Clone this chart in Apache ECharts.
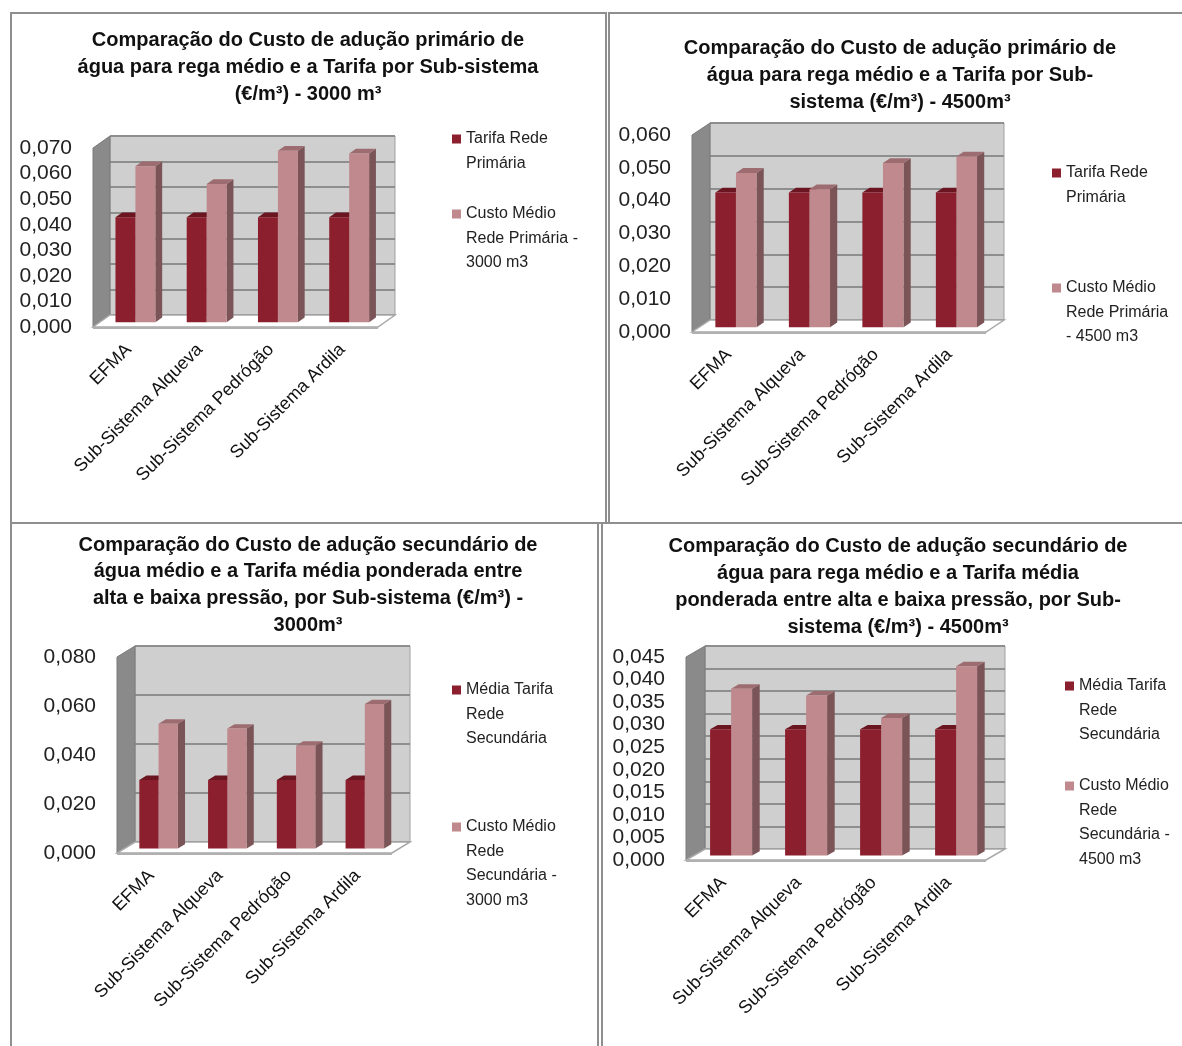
<!DOCTYPE html>
<html><head><meta charset="utf-8">
<script src="https://cdn.jsdelivr.net/npm/echarts@6/dist/echarts.min.js"></script>
<style>
html,body{margin:0;padding:0;background:#fff;}
body{width:1182px;height:1046px;position:relative;overflow:hidden;}
.c{position:absolute;}
.b{position:absolute;box-sizing:border-box;border:2px solid #8f8f8f;pointer-events:none;z-index:5;}
</style></head>
<body>
<div id="c1" class="c" style="left:10px;top:12px;width:596px;height:511px"></div>
<div id="c2" class="c" style="left:608px;top:12px;width:584px;height:510px"></div>
<div id="c3" class="c" style="left:10px;top:523px;width:596px;height:523px"></div>
<div id="c4" class="c" style="left:601px;top:523px;width:594px;height:523px"></div>
<div class="b" style="left:10px;top:12px;width:597px;height:512px"></div>
<div class="b" style="left:608px;top:12px;width:580px;height:512px"></div>
<div class="b" style="left:10px;top:522px;width:589px;height:530px"></div>
<div class="b" style="left:601px;top:522px;width:590px;height:530px"></div>
<script>
// ---- data ----
const categories = ['EFMA', 'Sub-Sistema Alqueva', 'Sub-Sistema Pedrógão', 'Sub-Sistema Ardila'];
const tarifaPrimaria3000 = [0.041, 0.041, 0.041, 0.041];
const custoPrimaria3000 = [0.061, 0.054, 0.067, 0.066];
const tarifaPrimaria4500 = [0.041, 0.041, 0.041, 0.041];
const custoPrimaria4500 = [0.047, 0.042, 0.050, 0.052];
const tarifaSecundaria3000 = [0.028, 0.028, 0.028, 0.028];
const custoSecundaria3000 = [0.051, 0.049, 0.042, 0.059];
const tarifaSecundaria4500 = [0.028, 0.028, 0.028, 0.028];
const custoSecundaria4500 = [0.037, 0.0355, 0.0305, 0.042];
const axisMax = [0.070, 0.060, 0.080, 0.045];
const axisInterval = [0.010, 0.010, 0.020, 0.005];
const titles = [
  'Comparação do Custo de adução primário de\nágua para rega médio e a Tarifa por Sub-sistema\n(€/m³) - 3000 m³',
  'Comparação do Custo de adução primário de\nágua para rega médio e a Tarifa por Sub-\nsistema (€/m³) - 4500m³',
  'Comparação do Custo de adução secundário de\nágua médio e a Tarifa média ponderada entre\nalta e baixa pressão, por Sub-sistema (€/m³) -\n3000m³',
  'Comparação do Custo de adução secundário de\nágua para rega médio e a Tarifa média\nponderada entre alta e baixa pressão, por Sub-\nsistema (€/m³) - 4500m³'
];
const seriesNames = [
  ['Tarifa Rede Primária', 'Custo Médio Rede Primária - 3000 m3'],
  ['Tarifa Rede Primária', 'Custo Médio Rede Primária - 4500 m3'],
  ['Média Tarifa Rede Secundária', 'Custo Médio Rede Secundária - 3000 m3'],
  ['Média Tarifa Rede Secundária', 'Custo Médio Rede Secundária - 4500 m3']
];
const legendLabels = [
  ['Tarifa Rede\nPrimária', 'Custo Médio\nRede Primária -\n3000 m3'],
  ['Tarifa Rede\nPrimária', 'Custo Médio\nRede Primária\n- 4500 m3'],
  ['Média Tarifa\nRede\nSecundária', 'Custo Médio\nRede\nSecundária -\n3000 m3'],
  ['Média Tarifa\nRede\nSecundária', 'Custo Médio\nRede\nSecundária -\n4500 m3']
];
const seriesValues = [
  [tarifaPrimaria3000, custoPrimaria3000],
  [tarifaPrimaria4500, custoPrimaria4500],
  [tarifaSecundaria3000, custoSecundaria3000],
  [tarifaSecundaria4500, custoSecundaria4500]
];

// ---- layout (page coordinates) ----
const layout = [
  {id:'c1', ox:10, oy:12, titleY:40, titleLH:27, wall:[110,136,395,315], off:[-17,12], legX:452, legY:[139,214]},
  {id:'c2', ox:608, oy:12, titleY:48, titleLH:27, wall:[710,123,1004,320], off:[-18,12], legX:1052, legY:[173,288]},
  {id:'c3', ox:10, oy:523, titleY:545, titleLH:26.7, wall:[135,646,410,842], off:[-18,11], legX:452, legY:[690,827]},
  {id:'c4', ox:601, oy:523, titleY:546, titleLH:27.3, wall:[705,646,1005,849], off:[-19,11], legX:1065, legY:[686,786]}
];

const FRONT = ['#8b1f2e', '#bf898d'];
const TOP = ['#6a1520', '#9d6c70'];
const SIDE = ['#5c1820', '#7b5458'];
const SANS = '"Liberation Sans",Arial,sans-serif';
const LEG_LH = 24.5;

function fmt(v){ return v.toFixed(3).replace('.', ','); }

function build(k){
  const L = layout[k];
  const chart = echarts.init(document.getElementById(L.id), null, {renderer:'canvas'});
  const wl = L.wall[0]-L.ox, wt = L.wall[1]-L.oy, wr = L.wall[2]-L.ox, wb = L.wall[3]-L.oy;
  const OX = L.off[0], OY = L.off[1];
  const W = wr-wl, H = wb-wt;

  const makeSeries = (s) => ({
    type:'custom', name: seriesNames[k][s], xAxisIndex:0, yAxisIndex:0, z: 3 + s,
    itemStyle:{color: FRONT[s]},
    data: categories.map((c,i)=>[i, seriesValues[k][s][i]]),
    encode:{x:0, y:1},
    renderItem(params, api){
      const ci = api.value(0), v = api.value(1);
      const top = api.coord([ci, v]);
      const base = api.coord([ci, 0]);
      const band = api.size([1,0])[0];
      const w = band*0.28;
      const fx = OX*0.6, fy = OY*0.6;
      const ddx = -OX*0.4, ddy = -OY*0.4;
      const x0 = top[0] + fx - w + s*w;
      const x1 = x0 + w;
      const yT = top[1] + fy, yB = base[1] + fy;
      return {type:'group', children:[
        {type:'polygon', shape:{points:[[x1,yT],[x1+ddx,yT+ddy],[x1+ddx,yB+ddy],[x1,yB]]}, style:{fill:SIDE[s]}},
        {type:'polygon', shape:{points:[[x0,yT],[x0+ddx,yT+ddy],[x1+ddx,yT+ddy],[x1,yT]]}, style:{fill:TOP[s]}},
        {type:'rect', shape:{x:x0, y:yT, width:w, height:yB-yT}, style:{fill:FRONT[s]}}
      ]};
    }
  });

  const legend = [0,1].map(s => {
    const lines = legendLabels[k][s].split('\n').length;
    const ih = lines*LEG_LH;
    const a = LEG_LH/2 - 4.5;
    return {
      data:[seriesNames[k][s]], orient:'vertical', padding:0,
      left: L.legX - L.ox, top: L.legY[s] - LEG_LH/2 - L.oy,
      itemWidth:9, itemHeight: ih,
      icon: 'path://M0,0M0,' + a + 'h9v9h-9zM9,' + ih,
      formatter: () => legendLabels[k][s],
      textStyle:{fontFamily:SANS, fontSize:16, lineHeight:LEG_LH, color:'#222'},
      selectedMode:false
    };
  });

  const option = {
    animation:false,
    title:{
      text: titles[k], left:'center', top: L.titleY - L.titleLH/2 - L.oy - 5,
      textStyle:{fontFamily:SANS, fontWeight:'bold', fontSize:20, lineHeight:L.titleLH, color:'#111'}
    },
    legend: legend,
    graphic: [
      {type:'polygon', z:1, shape:{points:[[wl+OX,wt+OY],[wl,wt],[wl,wb],[wl+OX,wb+OY]]},
        style:{fill:'#8a8a8a', stroke:'#7a7a7a', lineWidth:1}},
      {type:'polygon', z:1, shape:{points:[[wl,wb],[wr,wb],[wr+OX,wb+OY],[wl+OX,wb+OY]]},
        style:{fill:'#ffffff', stroke:'#a8a8a8', lineWidth:1.5}},
      {type:'polygon', z:1, shape:{points:[[wl+OX,wb+OY],[wr+OX,wb+OY],[wr+OX,wb+OY+2],[wl+OX,wb+OY+2]]},
        style:{fill:'#b0b0b0'}}
    ],
    grid:[
      {left:wl, top:wt, width:W, height:H, show:true, backgroundColor:'#cfcfcf', borderColor:'#a0a0a0', borderWidth:1},
      {left:wl+OX, top:wt+OY, width:W, height:H, show:false}
    ],
    xAxis:[
      {type:'category', gridIndex:0, data:categories, axisLine:{show:false}, axisTick:{show:false}, axisLabel:{show:false}, splitLine:{show:false}},
      {type:'category', gridIndex:1, data:categories, axisLine:{show:false}, axisTick:{show:false},
        axisLabel:{rotate:45, margin:20, interval:0, fontFamily:SANS, fontSize:18, color:'#111'}}
    ],
    yAxis:[
      {type:'value', gridIndex:0, min:0, max:axisMax[k], interval:axisInterval[k], axisLabel:{show:false}, axisLine:{show:false}, axisTick:{show:false},
        splitLine:{show:true, lineStyle:{color:'#8e8e8e', width:2}}},
      {type:'value', gridIndex:1, min:0, max:axisMax[k], interval:axisInterval[k], axisLine:{show:false}, axisTick:{show:false}, splitLine:{show:false},
        axisLabel:{margin:21, formatter:fmt, fontFamily:SANS, fontSize:21, color:'#222', showMinLabel:true, showMaxLabel:true, hideOverlap:false}}
    ],
    series:[makeSeries(0), makeSeries(1)]
  };
  chart.setOption(option);
}
[0,1,2,3].forEach(build);
</script>
</body></html>
